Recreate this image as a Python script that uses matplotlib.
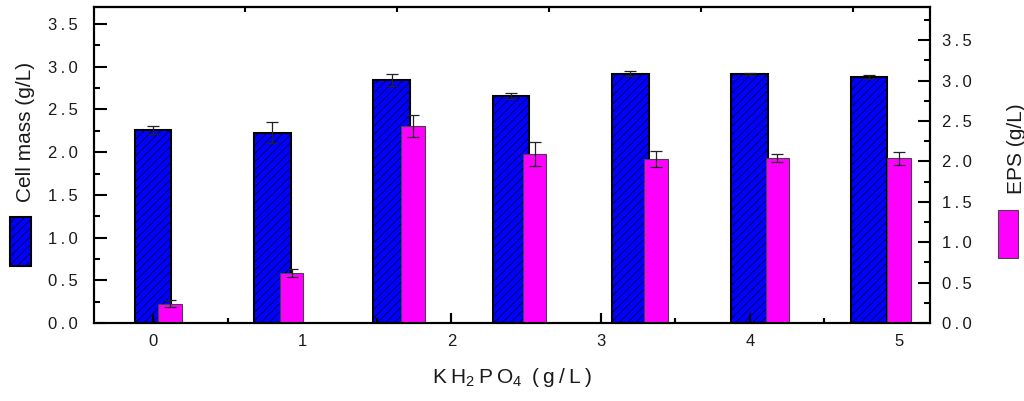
import numpy as np
import matplotlib
matplotlib.use('Agg')
import matplotlib.pyplot as plt
from matplotlib.ticker import MultipleLocator, FuncFormatter

plt.rcParams['font.family'] = ['Liberation Sans', 'DejaVu Sans']
plt.rcParams['mathtext.fontset'] = 'custom'
plt.rcParams['mathtext.rm'] = 'Liberation Sans'
plt.rcParams['mathtext.default'] = 'regular'
plt.rcParams['hatch.linewidth'] = 0.45

# values (7 groups of bars)
cell_mass = [2.26, 2.23, 2.84, 2.66, 2.92, 2.92, 2.88]
cell_err = [0.05, 0.12, 0.07, 0.035, 0.025, 0.012, 0.025]
eps = [0.24, 0.62, 2.44, 2.09, 2.03, 2.04, 2.04]
eps_err = [0.04, 0.045, 0.135, 0.145, 0.095, 0.05, 0.08]
x_ticks = [0, 1, 2, 3, 4, 5]
y_ticks = [0.0, 0.5, 1.0, 1.5, 2.0, 2.5, 3.0, 3.5]

n = len(cell_mass)
blue_x = np.linspace(0, 4.8, n)
pink_x = np.linspace(0.115, 5.0, n)

fig = plt.figure(figsize=(10.24, 4.01), dpi=100)
ax = fig.add_axes([94 / 1024, 1 - 323 / 401, 836 / 1024, 316 / 401])
ax2 = ax.twinx()

blue = ax.bar(blue_x, cell_mass, width=0.245, color='#0000ff', edgecolor='black',
              linewidth=1.5, hatch='////', zorder=2)
ax.errorbar(blue_x, cell_mass, yerr=cell_err, fmt='none', ecolor='#222222',
            elinewidth=0.9, capsize=4.3, capthick=0.9, zorder=3)

pink = ax2.bar(pink_x, eps, width=0.158, color='#ff00ff', edgecolor='#444444',
               linewidth=0.8, zorder=2)
ax2.errorbar(pink_x, eps, yerr=eps_err, fmt='none', ecolor='#222222',
             elinewidth=0.9, capsize=4.3, capthick=0.9, zorder=3)

ax.set_xlim(-0.395, 5.208)
ax.set_ylim(0, 3.70)
ax2.set_ylim(0, 3.91)


def spaced(v, pos):
    return '\u2009'.join('{:.1f}'.format(v))


def spaced_int(v, pos):
    return '{:d}'.format(int(round(v)))


for a in (ax, ax2):
    for s in a.spines.values():
        s.set_linewidth(1.5)

ax.set_xticks(x_ticks)
ax.xaxis.set_minor_locator(MultipleLocator(0.5))
ax.xaxis.set_major_formatter(FuncFormatter(spaced_int))
ax.set_yticks(y_ticks)
ax.yaxis.set_minor_locator(MultipleLocator(0.25))
ax.yaxis.set_major_formatter(FuncFormatter(spaced))
ax2.set_yticks(y_ticks)
ax2.yaxis.set_minor_locator(MultipleLocator(0.25))
ax2.yaxis.set_major_formatter(FuncFormatter(spaced))

ax.tick_params(axis='y', which='major', direction='in', length=9, width=1.5,
               pad=11.5, labelsize=12, labelcolor='#1a1a1a')
ax.tick_params(axis='y', which='minor', direction='in', length=4.5, width=1.5)
ax2.tick_params(axis='y', which='major', direction='in', length=9, width=1.5,
                pad=8.6, labelsize=12, labelcolor='#1a1a1a')
ax2.tick_params(axis='y', which='minor', direction='in', length=4.5, width=1.5)

# bottom ticks drawn on the top-most axes so they sit over the bars
ax2.xaxis.set_visible(True)
for a in (ax, ax2):
    a.tick_params(axis='x', which='major', direction='in', length=7, width=1.5,
                  pad=8, labelsize=12, labelcolor='#1a1a1a', top=False)
    a.tick_params(axis='x', which='minor', direction='in', length=3.5, width=1.5,
                  top=False)
ax2.tick_params(axis='x', which='both', labelbottom=False)

top = ax.secondary_xaxis('top')
top.set_xticks(0.617 + np.arange(5) * 1.019)
top.tick_params(direction='in', length=3.5, width=1.5, labeltop=False)
top.spines['top'].set_linewidth(1.5)

ax.set_xlabel('K\u2009H$_2$\u2009P\u2009O$_4$ \u2009(\u2009g\u2009/\u2009L\u2009)', fontsize=15,
              color='#1a1a1a', labelpad=12)
ax.set_ylabel('Cell mass (g/L)', fontsize=15, color='#1a1a1a')
ax.yaxis.set_label_coords(-0.0706, 0.604)
ax2.set_ylabel('EPS (g/L)', fontsize=15, color='#1a1a1a')
ax2.yaxis.set_label_coords(1.092, 0.551)

fig.legend(handles=[blue], labels=[''], loc='upper left',
           bbox_to_anchor=(10 / 1024, 1 - 217 / 401), frameon=False, fontsize=10,
           handlelength=1.51, handleheight=5.05, borderpad=0, borderaxespad=0,
           handletextpad=0)
fig.legend(handles=[pink], labels=[''], loc='upper left',
           bbox_to_anchor=(998 / 1024, 1 - 210 / 401), frameon=False, fontsize=10,
           handlelength=1.45, handleheight=4.95, borderpad=0, borderaxespad=0,
           handletextpad=0)

fig.savefig('out.png', dpi=100)
